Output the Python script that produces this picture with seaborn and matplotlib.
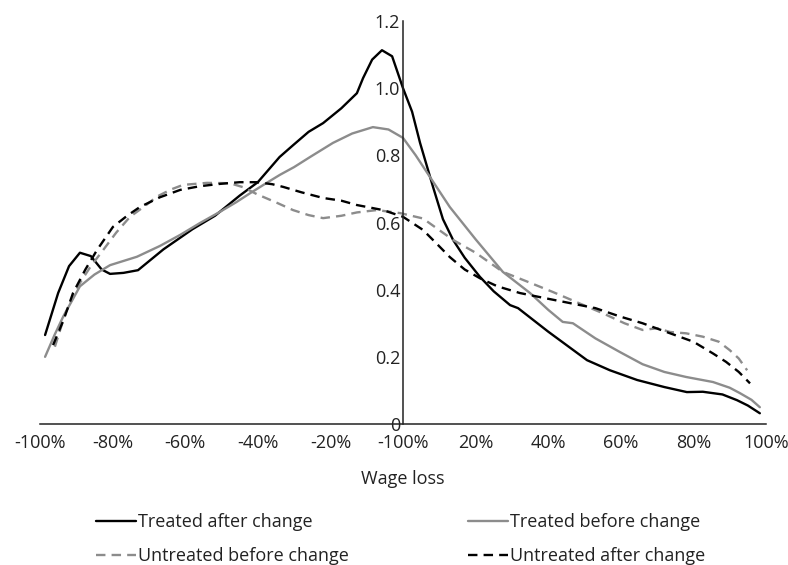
import matplotlib

matplotlib.use("Agg")
import matplotlib.pyplot as plt
import numpy as np
import pandas as pd
import seaborn as sns

# 读取自图像的曲线数据 (x: 工资损失 %, y: 密度)
treated_after_x = [-98.6, -95, -92, -89, -86, -83, -80.7, -77, -73, -66, -58, -51.8, -45, -40, -34, -30.3,
                   -26, -22, -17, -12.7, -11, -8.5, -5.8, -3, 0, 2.5, 4.7, 8.3, 11, 13.8, 17, 21.2,
                   25, 29.5, 31.7, 40, 50.7, 57, 64.5, 72, 78.2, 82.6, 88, 92, 95, 98.3]
treated_after_y = [0.265, 0.39, 0.47, 0.51, 0.50, 0.46, 0.447, 0.45, 0.458, 0.52, 0.58, 0.62, 0.68, 0.72,
                   0.795, 0.83, 0.87, 0.896, 0.94, 0.985, 1.03, 1.085, 1.113, 1.095, 1.0, 0.93, 0.837,
                   0.705, 0.61, 0.548, 0.495, 0.438, 0.395, 0.354, 0.345, 0.275, 0.19, 0.16, 0.131,
                   0.11, 0.095, 0.096, 0.088, 0.071, 0.055, 0.032]

treated_before_x = [-98.6, -96, -93.6, -89, -85, -80.7, -73.3, -67, -61.4, -56, -50.4, -46, -42, -38, -33.9,
                    -30, -25.6, -19.3, -14, -8.3, -4, 0, 3.5, 7.4, 12.9, 20, 27.5, 35, 40, 44, 46.8,
                    53, 59.8, 66, 72, 78, 85.4, 90, 92.8, 96, 98.3]
treated_before_y = [0.20, 0.265, 0.32, 0.41, 0.445, 0.473, 0.498, 0.53, 0.563, 0.598, 0.632, 0.66, 0.688,
                    0.715, 0.742, 0.765, 0.795, 0.837, 0.865, 0.884, 0.877, 0.852, 0.80, 0.736, 0.646,
                    0.55, 0.453, 0.39, 0.34, 0.304, 0.30, 0.255, 0.214, 0.178, 0.155, 0.14, 0.125,
                    0.108, 0.092, 0.072, 0.05]

untreated_before_x = [-95.9, -93, -89, -86, -82.6, -79, -75.2, -71, -67.8, -64, -60.6, -54, -47.7, -44,
                      -40.2, -35, -30.3, -26, -22, -17, -12.7, -7.2, -0.8, 5.5, 9, 13.8, 20, 27.5, 34,
                      41.3, 48, 55, 61, 66, 70, 73.6, 78, 82.6, 87, 90, 92.5, 94.8]
untreated_before_y = [0.23, 0.33, 0.42, 0.47, 0.518, 0.57, 0.617, 0.65, 0.677, 0.698, 0.712, 0.718, 0.717,
                      0.705, 0.684, 0.66, 0.637, 0.622, 0.613, 0.62, 0.63, 0.637, 0.628, 0.612, 0.585,
                      0.548, 0.51, 0.453, 0.425, 0.393, 0.362, 0.33, 0.3, 0.28, 0.285, 0.274, 0.27,
                      0.26, 0.245, 0.22, 0.195, 0.16]

untreated_after_x = [-96.4, -93.5, -90.9, -87.5, -84.3, -79.9, -76, -72.5, -67, -61.4, -56, -50.4, -45,
                     -40.2, -36, -33, -28, -22, -17, -12.7, -5.5, 0, 5.5, 9, 12.9, 17, 21.2, 26, 32.2,
                     39, 46, 53, 59.8, 66, 73.6, 80, 85.4, 89, 92.5, 95.6]
untreated_after_y = [0.235, 0.31, 0.39, 0.46, 0.518, 0.587, 0.62, 0.646, 0.675, 0.697, 0.708, 0.715, 0.72,
                     0.72, 0.714, 0.706, 0.69, 0.673, 0.665, 0.652, 0.637, 0.617, 0.578, 0.54, 0.497,
                     0.46, 0.434, 0.41, 0.39, 0.375, 0.36, 0.345, 0.32, 0.3, 0.27, 0.245, 0.21, 0.185,
                     0.155, 0.121]

x_ticks = [-100, -80, -60, -40, -20, 0, 20, 40, 60, 80, 100]
x_tick_labels = ["-100%", "-80%", "-60%", "-40%", "-20%", "-100%", "20%", "40%", "60%", "80%", "100%"]
y_ticks = [0, 0.2, 0.4, 0.6, 0.8, 1.0, 1.2]
y_tick_labels = ["0", "0.2", "0.4", "0.6", "0.8", "1.0", "1.2"]

sns.set_theme(style="white")
plt.rcParams["font.family"] = ["Open Sans", "DejaVu Sans"]

fig = plt.figure(figsize=(7.88, 5.65), dpi=100)
ax = fig.add_axes([40 / 788, 1 - 424 / 565, 726 / 788, 403 / 565])

gray = "#8c8c8c"
series = [
    ("Treated after change", treated_after_x, treated_after_y, "black", "-"),
    ("Untreated before change", untreated_before_x, untreated_before_y, gray, (0, (4, 2.6))),
    ("Treated before change", treated_before_x, treated_before_y, gray, "-"),
    ("Untreated after change", untreated_after_x, untreated_after_y, "black", (0, (4, 2.6))),
]
for name, xs, ys, color, ls in series:
    df = pd.DataFrame({"x": xs, "y": ys})
    sns.lineplot(data=df, x="x", y="y", ax=ax, color=color, linestyle=ls,
                 linewidth=1.7, sort=False, label=name)

ax.set_xlim(-100, 100)
ax.set_ylim(0, 1.2)

ax.spines["top"].set_visible(False)
ax.spines["right"].set_visible(False)
ax.spines["left"].set_position(("data", 0))
for s in ["left", "bottom"]:
    ax.spines[s].set_color("#222222")
    ax.spines[s].set_linewidth(1.1)

ax.set_xticks(x_ticks)
ax.set_xticklabels(x_tick_labels)
ax.set_yticks(y_ticks)
ax.set_yticklabels(y_tick_labels)
ax.tick_params(axis="both", direction="in", length=5, width=1.0, color="#222222",
               labelsize=13, labelcolor="#222222")
ax.tick_params(axis="x", pad=7)
ax.tick_params(axis="y", pad=2)
ax.xaxis.get_major_ticks()[5].tick1line.set_visible(False)

ax.set_xlabel("Wage loss", fontsize=13, color="#222222", labelpad=13)
ax.set_ylabel("")

handles, labels = ax.get_legend_handles_labels()
ax.get_legend().remove()
fig.legend(handles, labels, ncol=2, frameon=False, fontsize=13,
           loc="upper left", bbox_to_anchor=(96 / 788, 1 - 513 / 565),
           borderaxespad=0, borderpad=0, handlelength=2.2, handletextpad=0.12,
           columnspacing=6.6, labelspacing=0.9, labelcolor="#222222")

fig.savefig("out.png", dpi=100)
